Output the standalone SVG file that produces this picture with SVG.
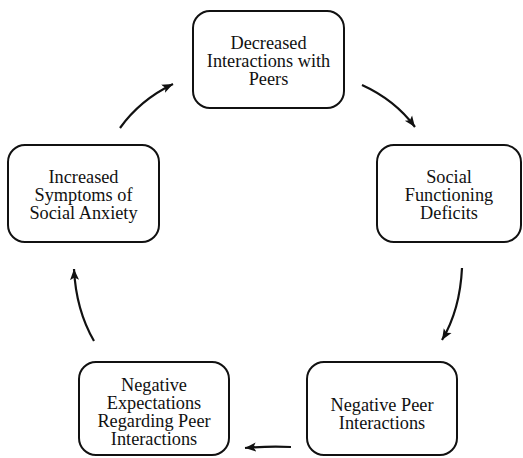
<svg xmlns="http://www.w3.org/2000/svg" width="523" height="458" viewBox="0 0 523 458">
<style>
.box{fill:#fff;stroke:#111;stroke-width:2}
.arr{fill:none;stroke:#111;stroke-width:2.2;marker-end:url(#ah)}
</style>
<defs>
<marker id="ah" markerUnits="userSpaceOnUse" markerWidth="12" markerHeight="12" viewBox="0 0 12 12" refX="11" refY="6" orient="auto">
<path d="M0,1.5 L11,6 L0,10.5 L2.5,6 Z" fill="#111"/>
</marker>
</defs>
<rect width="523" height="458" fill="#fff"/>
<g font-family="Liberation Serif, Times New Roman, serif" font-size="18.3" fill="#111" text-anchor="middle">
<g id="n1">
<rect class="box" x="193" y="11" width="151" height="97" rx="17"/>
<text x="268.5" y="49">Decreased</text>
<text x="268.5" y="67">Interactions with</text>
<text x="268.5" y="85">Peers</text>
</g>
<g id="n2">
<rect class="box" x="377" y="145" width="144" height="97" rx="17"/>
<text x="449" y="183">Social</text>
<text x="449" y="201">Functioning</text>
<text x="449" y="219">Deficits</text>
</g>
<g id="n3">
<rect class="box" x="307" y="362" width="150" height="93" rx="17"/>
<text x="382" y="411">Negative Peer</text>
<text x="382" y="429">Interactions</text>
</g>
<g id="n4">
<rect class="box" x="79" y="362" width="150" height="93" rx="17"/>
<text x="154" y="391">Negative</text>
<text x="154" y="409">Expectations</text>
<text x="154" y="427">Regarding Peer</text>
<text x="154" y="445">Interactions</text>
</g>
<g id="n5">
<rect class="box" x="8" y="145" width="151" height="97" rx="17"/>
<text x="83.5" y="183">Increased</text>
<text x="83.5" y="201">Symptoms of</text>
<text x="83.5" y="219">Social Anxiety</text>
</g>
</g>
<g id="connectors">
<path class="arr" d="M120,128 Q140,100 173,84"/>
<path class="arr" d="M362,85 Q395,100 415,127"/>
<path class="arr" d="M462,268 Q460,310 442,340"/>
<path class="arr" d="M291,447 Q268,446 245,448"/>
<path class="arr" d="M94,341 Q76,310 74,269"/>
</g>
</svg>
